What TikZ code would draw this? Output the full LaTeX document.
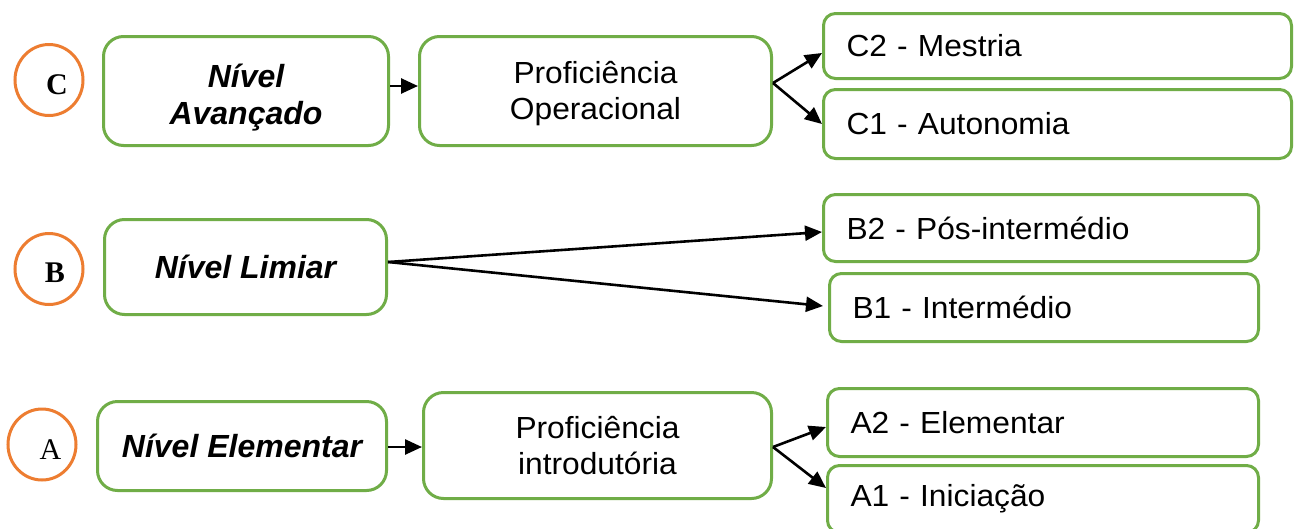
\documentclass[tikz,border=0pt]{standalone}
\usepackage{fontspec}
\setmainfont{Liberation Sans}
\newfontfamily\wideface[FakeStretch=1.04]{Liberation Sans}
\newfontfamily\romanface{Liberation Serif}
\usetikzlibrary{arrows.meta,shapes.geometric}
\definecolor{boxgreen}{HTML}{70AD47}
\definecolor{ringorange}{HTML}{ED7D31}
% two centred lines; #1 of extra room above pushes them down by half of it
\newcommand{\twolines}[3]{\raisebox{0pt}[\dimexpr\height+#1\relax][\depth]{\begin{tabular}{@{}c@{}}#2\\#3\end{tabular}}}
\tikzset{
  stagebox/.style={draw=boxgreen, line width=3pt, rounded corners=20pt,
    inner sep=0pt},
  levelbox/.style={draw=boxgreen, line width=3pt, rounded corners=12pt,
    inner xsep=23pt, inner ysep=0pt, align=left,
    font=\wideface\fontsize{30.5}{36}\selectfont},
  headtext/.style={font=\bfseries\itshape\fontsize{32}{37}\selectfont},
  proftext/.style={font=\wideface\fontsize{30.5}{36}\selectfont},
  ring/.style={ellipse, draw=ringorange, line width=3pt,
    minimum width=68pt, minimum height=71pt, inner sep=0pt},
  ringletter/.style={font=\romanface\fontsize{30}{30}\selectfont, inner sep=0pt},
  boldletter/.style={ringletter, font=\romanface\bfseries\fontsize{30}{30}\selectfont},
  link/.style={line width=2.6pt, -{Triangle[length=17pt,width=15pt]}}
}
\begin{document}
\begin{tikzpicture}[x=1pt, y=-1pt]
\clip (0,0) rectangle (1294,528);
\fill[white] (0,0) rectangle (1294,528);

% level C
\node[ring] (rc) at (49,80) {};
\node[boldletter] (lc) at (57,85) {C};
\node[stagebox, headtext, minimum width=285pt, minimum height=109pt] (na) at (246,91) {\twolines{16pt}{Nível}{Avançado}};
\node[stagebox, proftext, minimum width=352pt, minimum height=109pt] (po) at (595.5,91) {\twolines{6pt}{Proficiência}{Operacional}};
\node[levelbox, text width=422pt, minimum height=65pt] (c2) at (1057.5,46) {C2 - Mestria};
\node[levelbox, text width=422pt, minimum height=69pt] (c1) at (1057.5,124) {C1 - Autonomia};

% level B
\node[ring] (rb) at (49,269) {};
\node[boldletter] (lb) at (55,273) {B};
\node[stagebox, headtext, minimum width=282pt, minimum height=95pt] (nl) at (245.5,267) {Nível Limiar};
\node[levelbox, text width=389pt, minimum height=67pt] (b2) at (1041,228) {B2 - Pós-intermédio};
\node[levelbox, text width=383pt, minimum height=68pt] (b1) at (1044,307.5) {B1 - Intermédio};

% level A
\node[ring] (ra) at (42,444.5) {};
\node[ringletter] (la) at (50.5,449.5) {A};
\node[stagebox, headtext, minimum width=289pt, minimum height=89pt] (ne) at (242,446) {Nível Elementar};
\node[stagebox, proftext, minimum width=348pt, minimum height=106pt] (pi) at (597.5,445.5) {\twolines{8pt}{Proficiência}{introdutória}};
\node[levelbox, text width=385pt, minimum height=68pt] (a2) at (1043,422.5) {A2 - Elementar};
\node[levelbox, text width=385pt, minimum height=67pt] (a1) at (1043,499) {A1 - Iniciação};

% connectors
\draw[link] ([yshift=5pt]na.east) -- ([yshift=5pt]po.west);
\draw[link] ([yshift=8pt]po.east) -- ([yshift=-7pt]c2.west);
\draw[link] ([yshift=8pt]po.east) -- (c1.west);

\draw[link] ([yshift=5pt]nl.east) -- ([yshift=-4pt]b2.west);
\draw[link] ([yshift=5pt]nl.east) -- ([xshift=-5pt,yshift=1.5pt]b1.west);

\draw[link] ([yshift=-1pt]ne.east) -- ([yshift=-1.5pt]pi.west);
\draw[link] ([yshift=-1.5pt]pi.east) -- ([yshift=-4.5pt]a2.west);
\draw[link] ([yshift=-1.5pt]pi.east) -- ([yshift=11pt]a1.west);
\end{tikzpicture}
\end{document}
